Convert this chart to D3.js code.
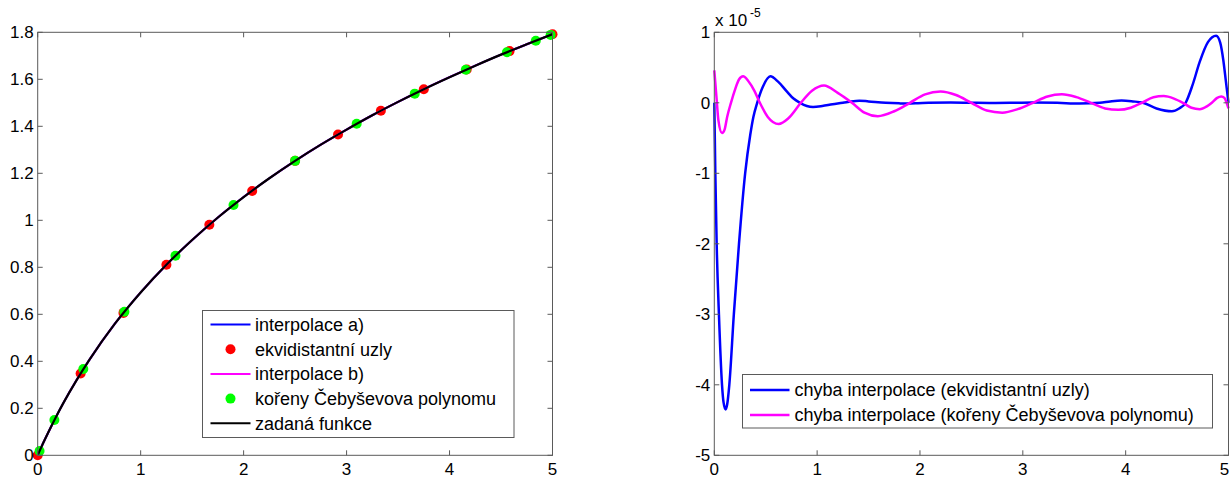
<!DOCTYPE html>
<html><head><meta charset="utf-8">
<script src="https://cdn.jsdelivr.net/npm/d3@7"></script>
<style>
body{margin:0;background:#fff;}
svg text{font-family:"Liberation Sans",Arial,sans-serif;fill:#000;}
</style></head>
<body>
<svg id="c" width="1230" height="479"></svg>
<script>
// ---------- data ----------
// given function (zadaná funkce), left chart
const fX = [0,0.02,0.05,0.1,0.175,0.25,0.375,0.5,0.75,1,1.25,1.5,1.75,2,2.25,2.5,2.75,3,3.25,3.5,3.75,4,4.25,4.5,4.75,5];
const fY = [0,0.020,0.049,0.095,0.161,0.223,0.318,0.405,0.560,0.693,0.811,0.916,1.012,1.099,1.179,1.253,1.322,1.386,1.447,1.504,1.558,1.609,1.658,1.705,1.749,1.792];
// equidistant nodes (ekvidistantní uzly)
const eqX = [0,0.417,0.833,1.25,1.667,2.083,2.5,2.917,3.333,3.75,4.167,4.583,5];
const eqY = [0,0.348,0.606,0.811,0.981,1.125,1.253,1.365,1.466,1.558,1.642,1.720,1.792];
// Chebyshev roots (kořeny Čebyševova polynomu)
const chX = [0.018,0.162,0.443,0.842,1.338,1.902,2.5,3.098,3.662,4.158,4.557,4.838,4.982];
const chY = [0.018,0.150,0.367,0.611,0.849,1.065,1.253,1.411,1.539,1.641,1.715,1.764,1.789];
const leftYTicks = [0,0.2,0.4,0.6,0.8,1,1.2,1.4,1.6,1.8];
const xTicks = [0,1,2,3,4,5];

// right chart: errors, in units of 1e-5
const errAX = [0,0.005,0.01,0.023,0.045,0.075,0.09,0.11,0.125,0.146,0.19,0.24,0.30,0.35,0.38,0.417,0.47,0.545,0.62,0.70,0.77,0.833,0.9,0.96,1.05,1.15,1.25,1.33,1.41,1.5,1.667,1.8,1.875,1.98,2.083,2.3,2.5,2.7,2.917,3.1,3.333,3.55,3.75,3.85,3.96,4.07,4.167,4.3,4.45,4.52,4.583,4.65,4.72,4.8,4.88,4.92,4.95,4.975,5];
const errAY = [0,-0.5,-1.0,-2.0,-3.0,-4.0,-4.25,-4.35,-4.28,-4.0,-3.0,-2.0,-1.0,-0.45,-0.2,0,0.22,0.375,0.30,0.17,0.06,0,-0.045,-0.058,-0.045,-0.02,0,0.02,0.03,0.02,0,-0.008,-0.01,-0.006,0,0.004,0,-0.003,0,0.004,0,-0.01,0,0.02,0.033,0.02,0,-0.08,-0.12,-0.08,0,0.25,0.58,0.86,0.95,0.85,0.6,0.3,0];
const errBX = [0,0.02,0.04,0.075,0.1,0.125,0.162,0.2,0.24,0.28,0.33,0.39,0.443,0.52,0.626,0.72,0.842,0.95,1.067,1.2,1.338,1.46,1.59,1.75,1.902,2.05,2.2,2.35,2.5,2.65,2.8,2.95,3.098,3.24,3.38,3.52,3.662,3.8,3.93,4.05,4.158,4.27,4.37,4.47,4.557,4.64,4.72,4.79,4.838,4.89,4.93,4.96,4.982,5];
const errBY = [0.46,0.1,-0.25,-0.43,-0.38,-0.2,0,0.18,0.33,0.375,0.31,0.17,0,-0.2,-0.30,-0.22,0,0.17,0.245,0.14,0,-0.14,-0.19,-0.12,0,0.12,0.16,0.11,0,-0.11,-0.14,-0.09,0,0.09,0.12,0.08,0,-0.08,-0.10,-0.07,0,0.08,0.095,0.06,0,-0.07,-0.09,-0.05,0,0.07,0.09,0.07,0,-0.08];
const rightYTicks = [-5,-4,-3,-2,-1,0,1];

const leftLegend = ["interpolace a)","ekvidistantní uzly","interpolace b)","kořeny Čebyševova polynomu","zadaná funkce"];
const rightLegend = ["chyba interpolace (ekvidistantní uzly)","chyba interpolace (kořeny Čebyševova polynomu)"];

// ---------- drawing ----------
const svg = d3.select("#c");
const axisColor = "#5a5a5a";
const tickFont = 17, legendFont = 18;

function frame(x, y, yTicks, fmt){
  const g = svg.append("g");
  const [x0,x1] = x.range(), [y0,y1] = y.range();
  const tl = 5;
  xTicks.forEach(t=>{
    const px = x(t);
    g.append("line").attr("x1",px).attr("x2",px).attr("y1",y0).attr("y2",y0-tl).attr("stroke",axisColor);
    g.append("line").attr("x1",px).attr("x2",px).attr("y1",y1).attr("y2",y1+tl).attr("stroke",axisColor);
    g.append("text").attr("x",Math.min(px,1224.5)).attr("y",y0+20).attr("text-anchor","middle").attr("font-size",tickFont).text(t);
  });
  yTicks.forEach(t=>{
    const py = y(t);
    g.append("line").attr("x1",x0).attr("x2",x0+tl).attr("y1",py).attr("y2",py).attr("stroke",axisColor);
    g.append("line").attr("x1",x1).attr("x2",x1-tl).attr("y1",py).attr("y2",py).attr("stroke",axisColor);
    g.append("text").attr("x",x0-4).attr("y",py).attr("dy","0.35em").attr("text-anchor","end").attr("font-size",tickFont).text(fmt(t));
  });
  g.append("rect").attr("x",x0).attr("y",y1).attr("width",x1-x0).attr("height",y0-y1)
    .attr("fill","none").attr("stroke",axisColor).attr("stroke-width",1);
}

// left chart
const xL = d3.scaleLinear().domain([0,5]).range([37.7,552.5]);
const yL = d3.scaleLinear().domain([0,1.8]).range([455.3,32.3]);
const fData = fX.map((d,i)=>[d,fY[i]]);
const lineL = d3.line().x(d=>xL(d[0])).y(d=>yL(d[1])).curve(d3.curveMonotoneX);
svg.append("path").attr("d",lineL(fData)).attr("fill","none").attr("stroke","#0000ff").attr("stroke-width",2);
svg.append("g").selectAll("circle").data(eqX.map((d,i)=>[d,eqY[i]])).join("circle")
  .attr("cx",d=>xL(d[0])).attr("cy",d=>yL(d[1])).attr("r",5).attr("fill","#ff0000");
svg.append("path").attr("d",lineL(fData)).attr("fill","none").attr("stroke","#ff00ff").attr("stroke-width",2);
svg.append("g").selectAll("circle").data(chX.map((d,i)=>[d,chY[i]])).join("circle")
  .attr("cx",d=>xL(d[0])).attr("cy",d=>yL(d[1])).attr("r",5).attr("fill","#00ff00");
svg.append("path").attr("d",lineL(fData)).attr("fill","none").attr("stroke","#000").attr("stroke-width",2.2);
frame(xL,yL,leftYTicks,d=>d===0?"0":(Number.isInteger(d)?String(d):d.toFixed(1)));

// left legend
{
  const g = svg.append("g");
  g.append("rect").attr("x",202.5).attr("y",310.5).attr("width",311.5).attr("height",127)
    .attr("fill","#fff").attr("stroke",axisColor);
  const styles = [["line","#0000ff"],["dot","#ff0000"],["line","#ff00ff"],["dot","#00ff00"],["line","#000"]];
  leftLegend.forEach((t,i)=>{
    const yy = 324.5 + i*24.7;
    if(styles[i][0]==="line") g.append("line").attr("x1",210.5).attr("x2",250.5).attr("y1",yy).attr("y2",yy).attr("stroke",styles[i][1]).attr("stroke-width",2);
    else g.append("circle").attr("cx",230.5).attr("cy",yy).attr("r",5).attr("fill",styles[i][1]);
    g.append("text").attr("x",255).attr("y",yy).attr("dy","0.35em").attr("font-size",legendFont).text(t);
  });
}

// right chart
const xR = d3.scaleLinear().domain([0,5]).range([714.3,1228.5]);
const yR = d3.scaleLinear().domain([-5,1]).range([455.3,32.3]);
const lineR = d3.line().x(d=>xR(d[0])).y(d=>yR(d[1])).curve(d3.curveMonotoneX);
svg.append("path").attr("d",lineR(errAX.map((d,i)=>[d,errAY[i]]))).attr("fill","none").attr("stroke","#0000ff").attr("stroke-width",2.5);
svg.append("path").attr("d",lineR(errBX.map((d,i)=>[d,errBY[i]]))).attr("fill","none").attr("stroke","#ff00ff").attr("stroke-width",2.5);
frame(xR,yR,rightYTicks,d=>String(d));
svg.append("text").attr("x",715).attr("y",26).attr("font-size",17).text("x 10");
svg.append("text").attr("x",750).attr("y",17).attr("font-size",12).text("-5");

// right legend
{
  const g = svg.append("g");
  g.append("rect").attr("x",742.5).attr("y",374.5).attr("width",470).attr("height",53.5)
    .attr("fill","#fff").attr("stroke",axisColor);
  const cols = ["#0000ff","#ff00ff"];
  rightLegend.forEach((t,i)=>{
    const yy = 390 + i*25;
    g.append("line").attr("x1",750).attr("x2",789.5).attr("y1",yy).attr("y2",yy).attr("stroke",cols[i]).attr("stroke-width",2.5);
    g.append("text").attr("x",794.5).attr("y",yy).attr("dy","0.35em").attr("font-size",legendFont).text(t);
  });
}
</script>
</body></html>
